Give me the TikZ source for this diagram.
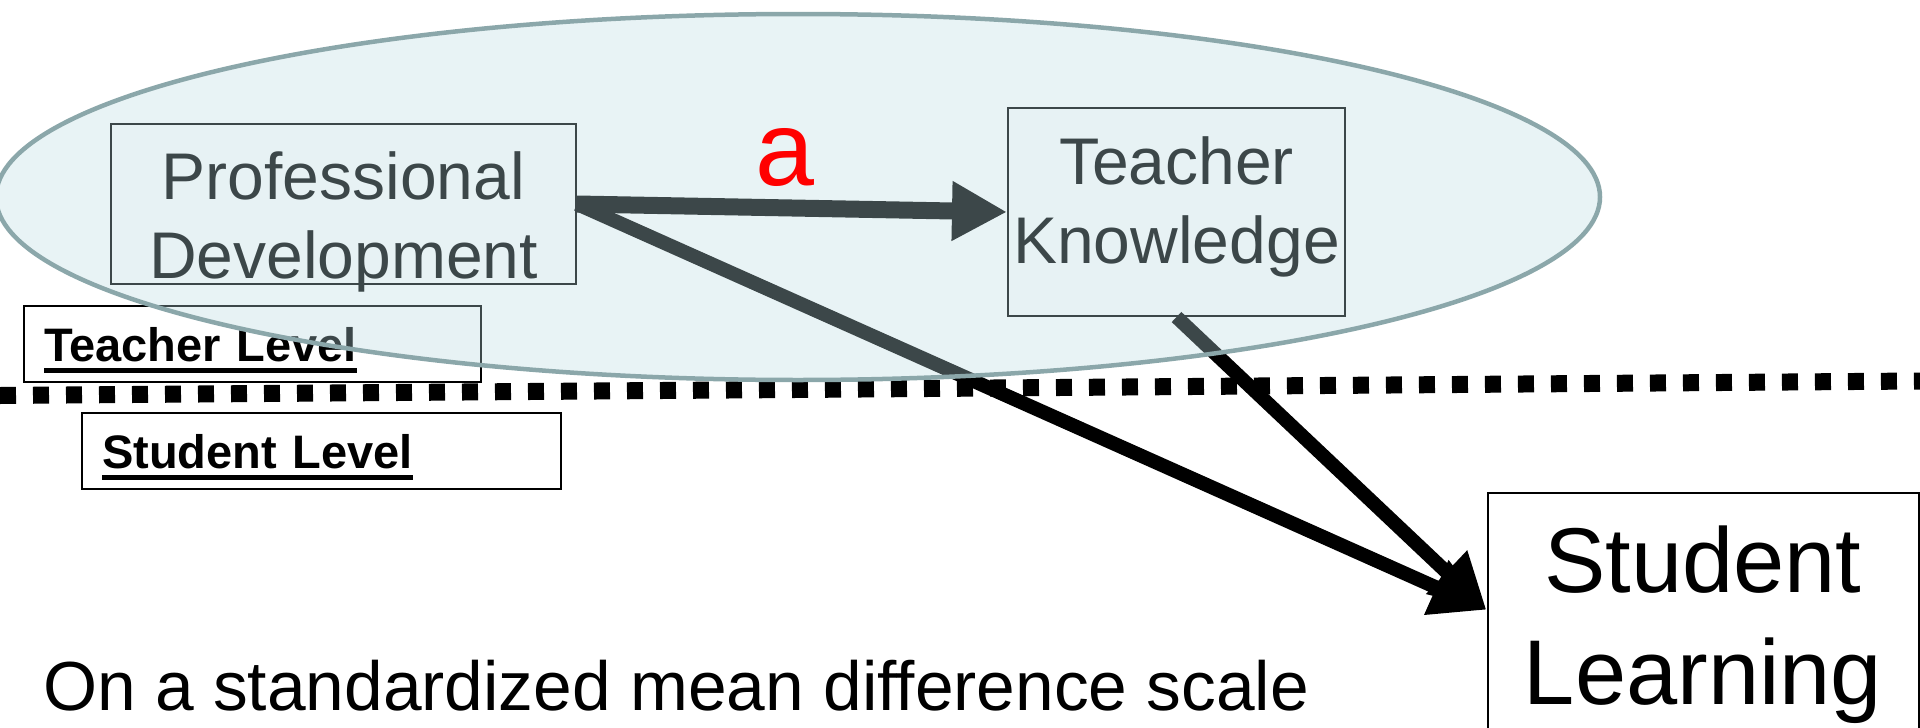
\documentclass[tikz,border=0pt]{standalone}
\usepackage{fontspec}
\setmainfont{Liberation Sans}
\usepackage{tikz}
\usetikzlibrary{arrows.meta, positioning}
\definecolor{zonefill}{RGB}{185,218,224}
\definecolor{zoneline}{RGB}{139,167,170}
\newcommand{\lvlul}[1]{\leavevmode\setbox0=\hbox{#1}\rlap{\rule[-11.5pt]{\wd0}{4.5pt}}\box0}
\tikzset{
    block/.style={rectangle, draw=black, line width=2pt, fill=white, inner sep=0pt},
    blocktext/.style={align=center, font=\fontsize{66}{79}\selectfont},
    lvlbox/.style={rectangle, draw=black, line width=2pt, fill=white, anchor=west, inner xsep=20pt, inner ysep=10pt, text height=45pt, text depth=11pt, align=left, font=\fontsize{47}{56}\selectfont\bfseries},
    arrow/.style={line width=14pt, -{Triangle[length=55pt, width=56pt]}},
    divider/.style={line width=17pt, dash pattern=on 16pt off 17pt},
    teacherzone/.style={draw=zoneline, line width=4.5pt, fill=zonefill, fill opacity=0.33}
}

\begin{document}
\begin{tikzpicture}[x=1pt, y=-1pt]
    \useasboundingbox (0,0) rectangle (1920,728);

    \node (tlevel) [lvlbox, text width=417pt] at (23,344) {\lvlul{Teacher Level}};
    \node (slevel) [lvlbox, text width=439pt] at (81,451) {\lvlul{Student Level}};

    \coordinate (divl) at (0,395.5);
    \coordinate (divr) at (1920,381);
    \draw [divider] (divl) -- (divr);

    \node (pd) [block, minimum width=465pt, minimum height=160pt] at (343.5,204) {};
    \node (pdtext) [blocktext] at ([yshift=-17.5pt]pd.center) {Professional\\Development};
    \node (tk) [block, minimum width=337pt, minimum height=208pt] at (1176.5,212) {};
    \node (tktext) [blocktext] at ([yshift=5.5pt]tk.center) {Teacher\\Knowledge};
    \node (learn) [block, minimum width=431pt, minimum height=264pt, align=center, font=\fontsize{92}{112}\selectfont] at (1703,625) {Student\\Learning};

    \node (note) [anchor=base west, inner sep=0pt, font=\fontsize{69.5}{83}\selectfont] at (43,710) {On a standardized mean difference scale};

    \draw [arrow, line width=17pt] (pd.east) -- coordinate[pos=0.483] (mid) (tk.west);
    \draw [arrow] (pd.east) -- (learn.176);
    \draw [arrow] (tk.south) -- (learn.176);

    \draw [teacherzone] (798,197) ellipse [x radius=802, y radius=183];

    \node (a) [above=21pt of mid, inner sep=0pt, text=red, font=\fontsize{106}{127}\selectfont] {a};
\end{tikzpicture}
\end{document}
